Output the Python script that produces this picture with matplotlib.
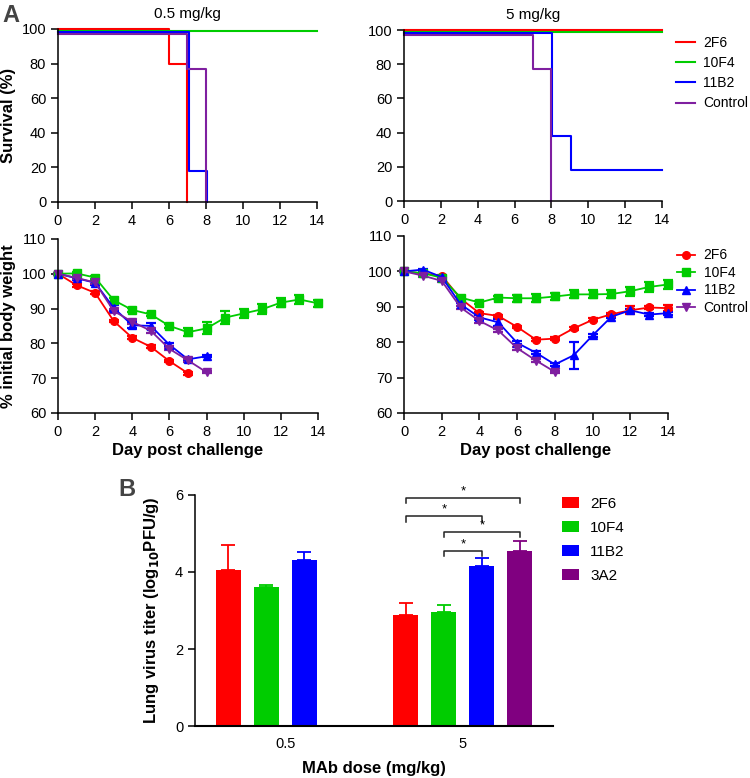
import matplotlib
matplotlib.use("Agg")
import matplotlib.pyplot as plt
import numpy as np

plt.rcParams["font.family"] = ["Liberation Sans", "DejaVu Sans"]
plt.rcParams["mathtext.default"] = "bf"
plt.rcParams["axes.linewidth"] = 1.1

groups = ["2F6", "10F4", "11B2", "Control"]
colors = ["#FF0000", "#00CC00", "#0000FF", "#7F1FA0"]
markers = ["o", "s", "^", "v"]

# survival (step curves), 0.5 mg/kg
surv_lo_days = [[0, 6, 7], [0, 14], [0, 7.1, 8.05], [0, 7.0, 7.98]]
surv_lo_vals = [[100, 80, 0], [99, 99], [98, 18, 0], [97, 77, 0]]
# survival, 5 mg/kg
surv_hi_days = [[0, 14], [0, 14], [0, 8.05, 9.05, 14], [0, 7.0, 7.95]]
surv_hi_vals = [[100, 100], [99, 99], [98, 38, 18, 18], [97, 77, 0]]

# body weight, 0.5 mg/kg
wt_lo = [
    [100, 96.7, 94.5, 86.4, 81.6, 79.0, 74.9, 71.4],
    [100, 100.1, 98.9, 92.4, 89.6, 88.3, 85.0, 83.2, 84.3, 87.4, 88.6, 89.8, 91.7, 92.6, 91.5],
    [100, 98.7, 97.4, 90.2, 85.2, 85.0, 79.6, 75.4, 76.3],
    [100, 98.8, 97.5, 89.3, 86.2, 83.6, 78.4, 75.1, 71.7],
]
wt_lo_err = [
    [0.3, 0.4, 0.4, 0.4, 0.4, 0.4, 0.4, 0.4],
    [0.3, 0.4, 0.5, 0.6, 0.5, 0.5, 0.5, 1.2, 1.7, 1.8, 1.4, 1.5, 1.4, 1.3, 1.0],
    [0.3, 0.4, 0.5, 0.9, 0.8, 0.9, 0.5, 0.4, 0.3],
    [0.3, 0.4, 0.5, 0.6, 0.5, 0.5, 0.4, 0.4, 0.3],
]
# body weight, 5 mg/kg
wt_hi = [
    [100, 99.4, 98.8, 92.3, 88.2, 87.4, 84.3, 80.7, 81.0, 83.9, 86.3, 87.9, 89.0, 89.8, 89.6],
    [100, 99.5, 98.2, 92.6, 91.2, 92.6, 92.4, 92.4, 92.9, 93.5, 93.5, 93.6, 94.4, 95.6, 96.3],
    [100, 100.5, 98.4, 90.7, 87.0, 85.6, 79.8, 77.0, 73.7, 76.3, 81.9, 87.2, 89.0, 87.8, 88.2],
    [100, 98.8, 97.3, 89.8, 86.0, 83.3, 78.3, 74.8, 71.6],
]
wt_hi_err = [
    [0.3, 0.3, 0.3, 0.4, 0.4, 0.4, 0.4, 0.4, 0.4, 0.4, 0.4, 0.4, 1.1, 0.4, 0.8],
    [0.3, 0.3, 0.4, 0.5, 0.5, 0.5, 1.0, 1.1, 1.1, 1.1, 1.1, 1.0, 1.3, 1.3, 1.3],
    [0.3, 0.3, 0.3, 0.4, 0.8, 1.0, 0.4, 0.4, 0.4, 3.8, 0.4, 0.4, 0.5, 0.4, 0.4],
    [0.3, 0.3, 0.4, 0.5, 0.5, 0.5, 0.4, 0.4, 0.3],
]

# lung virus titer (panel B)
doses = ["0.5", "5"]
mabs = ["2F6", "10F4", "11B2", "3A2"]
bar_colors = ["#FF0000", "#00CC00", "#0000FF", "#800080"]
titer = [[4.05, 2.88], [3.61, 2.96], [4.31, 4.16], [np.nan, 4.55]]
titer_err = [[0.65, 0.31], [0.05, 0.18], [0.21, 0.20], [np.nan, 0.25]]
# significance brackets: (bar i, bar j) at dose 5, bracket height
sig_pairs = [(0, 3, 5.92), (0, 2, 5.45), (1, 3, 5.04), (1, 2, 4.55)]

fig = plt.figure(figsize=(7.5, 7.78), dpi=100)

ax_s1 = fig.add_axes([0.0773, 0.7404, 0.3453, 0.2224])
ax_s2 = fig.add_axes([0.5387, 0.7416, 0.344, 0.2198])
ax_w1 = fig.add_axes([0.0773, 0.4692, 0.3467, 0.2237])
ax_w2 = fig.add_axes([0.5387, 0.4692, 0.352, 0.2275])
ax_b = fig.add_axes([0.26, 0.0668, 0.4773, 0.297])


def style(ax):
    ax.spines["top"].set_visible(False)
    ax.spines["right"].set_visible(False)
    ax.tick_params(direction="out", length=5, width=1.1, labelsize=10.5)


for ax, days, vals, title in [(ax_s1, surv_lo_days, surv_lo_vals, "0.5 mg/kg"),
                              (ax_s2, surv_hi_days, surv_hi_vals, "5 mg/kg")]:
    for d, v, c, g in zip(days, vals, colors, groups):
        ax.step(d, v, where="post", color=c, lw=1.5, label=g, clip_on=False)
    ax.set_xlim(0, 14)
    ax.set_ylim(0, 100)
    ax.set_xticks(np.arange(0, 15, 2))
    ax.set_yticks(np.arange(0, 101, 20))
    ax.set_title(title, fontsize=11, pad=8)
    style(ax)
ax_s1.set_ylabel("Survival (%)", fontsize=12, fontweight="bold", labelpad=4)
ax_s2.legend(loc="upper left", bbox_to_anchor=(1.005, 1.04), frameon=False,
             fontsize=10, handlelength=1.35, handletextpad=0.6, labelspacing=0.45)

for ax, wts, errs in [(ax_w1, wt_lo, wt_lo_err), (ax_w2, wt_hi, wt_hi_err)]:
    for w, e, c, m, g in zip(wts, errs, colors, markers, groups):
        x = np.arange(len(w))
        ax.errorbar(x, w, yerr=e, color=c, marker=m, ms=5.5, lw=1.3,
                    capsize=3.5, elinewidth=1.6, capthick=1.6, label=g, clip_on=False)
    ax.set_xlim(0, 14)
    ax.set_ylim(60, 110)
    ax.set_xticks(np.arange(0, 15, 2))
    ax.set_yticks(np.arange(60, 111, 10))
    ax.set_xlabel("Day post challenge", fontsize=12, fontweight="bold", labelpad=3)
    style(ax)
ax_w1.set_ylabel("% initial body weight", fontsize=12, fontweight="bold", labelpad=4)
h, l = ax_w2.get_legend_handles_labels()
h = [hh[0] for hh in h]
ax_w2.legend(h, l, loc="upper left", bbox_to_anchor=(0.985, 1.0), frameon=False,
             fontsize=10, handlelength=1.35, handletextpad=0.6, labelspacing=0.25)

# panel B
centers = np.array([0.0, 4.67])
offsets = np.array([-1.5, -0.5, 0.5, 1.5])
for i in range(4):
    xs = centers + offsets[i]
    ax_b.bar(xs, titer[i], width=0.66, color=bar_colors[i], label=mabs[i])
    ax_b.errorbar(xs, titer[i], yerr=[np.zeros(2), titer_err[i]], fmt="none",
                  ecolor=bar_colors[i], elinewidth=1.3, capsize=5, capthick=1.3)
for i, j, yb in sig_pairs:
    x1 = centers[1] + offsets[i]
    x2 = centers[1] + offsets[j]
    ax_b.plot([x1, x1, x2, x2], [yb - 0.14, yb, yb, yb - 0.14], color="#222222",
              lw=1.1, clip_on=False)
    ax_b.text((x1 + x2) / 2, yb + 0.02, "*", ha="center", va="bottom", fontsize=9.5)
ax_b.set_xlim(-2.38, 7.04)
ax_b.set_ylim(0, 6)
ax_b.set_yticks([0, 2, 4, 6])
ax_b.set_xticks(centers)
ax_b.set_xticklabels(doses)
style(ax_b)
ax_b.tick_params(axis="x", length=0, pad=8)
ax_b.spines["bottom"].set_linewidth(1.5)
ax_b.set_xlabel("MAb dose (mg/kg)", fontsize=12, fontweight="bold", labelpad=7)
ax_b.set_ylabel("Lung virus titer (log$_{10}$PFU/g)", fontsize=12,
                fontweight="bold", labelpad=10)
ax_b.legend(loc="upper left", bbox_to_anchor=(0.986, 1.05), frameon=False,
            fontsize=11, handlelength=1.15, handleheight=0.75, handletextpad=0.7,
            labelspacing=0.65)

fig.text(0.003, 0.995, "A", fontsize=17, fontweight="bold", color="#444444", va="top")
fig.text(0.158, 0.385, "B", fontsize=17, fontweight="bold", color="#444444", va="top")

fig.savefig("out.png", dpi=100)
